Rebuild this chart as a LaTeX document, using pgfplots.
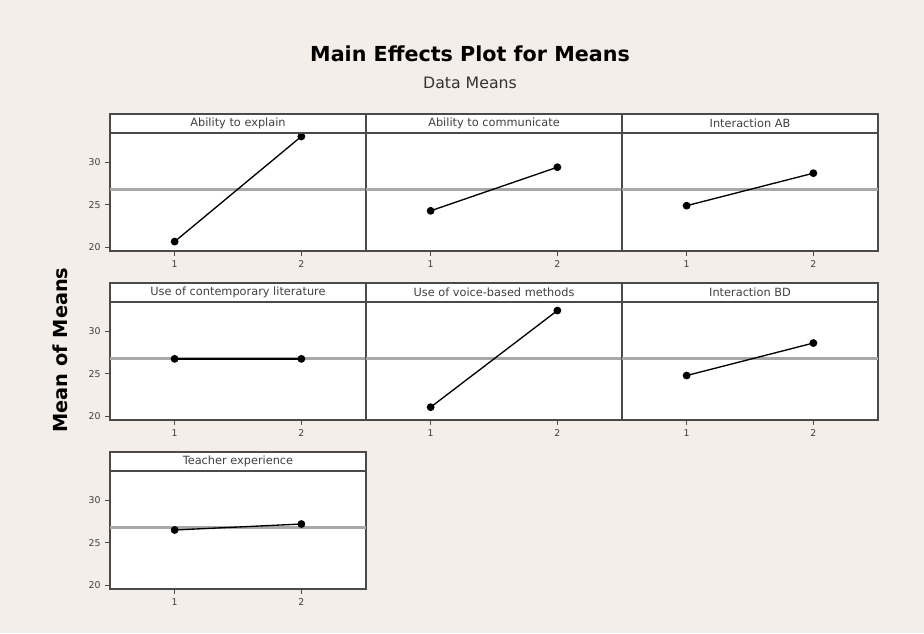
\documentclass[border=0pt]{standalone}
\usepackage{fontspec}
\setmainfont{DejaVu Sans}
\usepackage{pgfplots}
\pgfplotsset{compat=1.18}
\definecolor{bg}{HTML}{F3EEE9}
\definecolor{framec}{HTML}{4A4A4A}
\definecolor{meanc}{HTML}{A8A8A8}
\pgfplotsset{
  panel/.style={
    scale only axis, width=192pt, height=88.5pt,
    anchor=south west,
    xmin=0.49, xmax=2.51, ymin=19.6, ymax=33.4,
    xtick={1,2}, ytick={20,25,30},
    xtick pos=left, ytick pos=left,
    tick align=outside,
    major tick length=3.5pt,
    axis background/.style={fill=white},
    axis line style={draw=framec, line width=1.5pt},
    tick style={draw=framec, line width=0.7pt},
    /pgf/number format/assume math mode=true,
    ticklabel style={font=\fontsize{7}{8}\selectfont, text=black!75},
    after end axis/.append code={
      \node[draw=framec, line width=1.5pt, fill=white, minimum width=192pt,
        minimum height=14.25pt, inner sep=0pt, outer sep=0pt, anchor=south,
        font=\fontsize{8.5}{9}\selectfont, text=black!75]
        at (rel axis cs:0.5,1) {\striptext};
    },
  },
  noy/.style={yticklabels={}, ytick=\empty},
  meanline/.style={meanc, line width=2.3pt, forget plot},
  dat/.style={black, line width=1pt, mark=*, mark size=2.4pt},
}
\begin{document}
\begin{tikzpicture}
\path[use as bounding box, fill=bg] (0,0) rectangle (693pt,474.75pt);
% Row 1
\def\striptext{Ability to explain}
\begin{axis}[panel, at={(82.5pt,286.5pt)}]
\addplot[meanline] coordinates {(0.49,26.8) (2.51,26.8)};
\addplot[dat] coordinates {(1,20.7) (2,33.0)};
\end{axis}
\def\striptext{Ability to communicate}
\begin{axis}[panel, noy, at={(274.5pt,286.5pt)}]
\addplot[meanline] coordinates {(0.49,26.8) (2.51,26.8)};
\addplot[dat] coordinates {(1,24.3) (2,29.4)};
\end{axis}
\def\striptext{Interaction AB}
\begin{axis}[panel, noy, at={(466.5pt,286.5pt)}]
\addplot[meanline] coordinates {(0.49,26.8) (2.51,26.8)};
\addplot[dat] coordinates {(1,24.9) (2,28.7)};
\end{axis}
% Row 2
\def\striptext{Use of contemporary literature}
\begin{axis}[panel, at={(82.5pt,159.75pt)}]
\addplot[meanline] coordinates {(0.49,26.8) (2.51,26.8)};
\addplot[dat] coordinates {(1,26.75) (2,26.75)};
\end{axis}
\def\striptext{Use of voice-based methods}
\begin{axis}[panel, noy, at={(274.5pt,159.75pt)}]
\addplot[meanline] coordinates {(0.49,26.8) (2.51,26.8)};
\addplot[dat] coordinates {(1,21.1) (2,32.4)};
\end{axis}
\def\striptext{Interaction BD}
\begin{axis}[panel, noy, at={(466.5pt,159.75pt)}]
\addplot[meanline] coordinates {(0.49,26.8) (2.51,26.8)};
\addplot[dat] coordinates {(1,24.8) (2,28.6)};
\end{axis}
% Row 3
\def\striptext{Teacher experience}
\begin{axis}[panel, at={(82.5pt,33pt)}]
\addplot[meanline] coordinates {(0.49,26.8) (2.51,26.8)};
\addplot[dat] coordinates {(1,26.5) (2,27.2)};
\end{axis}
% Titles
\node[font=\bfseries\fontsize{15.5}{17}\selectfont] at (352.5pt,434.25pt) {Main Effects Plot for Means};
\node[font=\fontsize{11.8}{13}\selectfont, text=black!80] at (352.5pt,412.5pt) {Data Means};
\node[font=\bfseries\fontsize{14.5}{16}\selectfont, rotate=90] at (45pt,212.25pt) {Mean of Means};
\end{tikzpicture}
\end{document}
